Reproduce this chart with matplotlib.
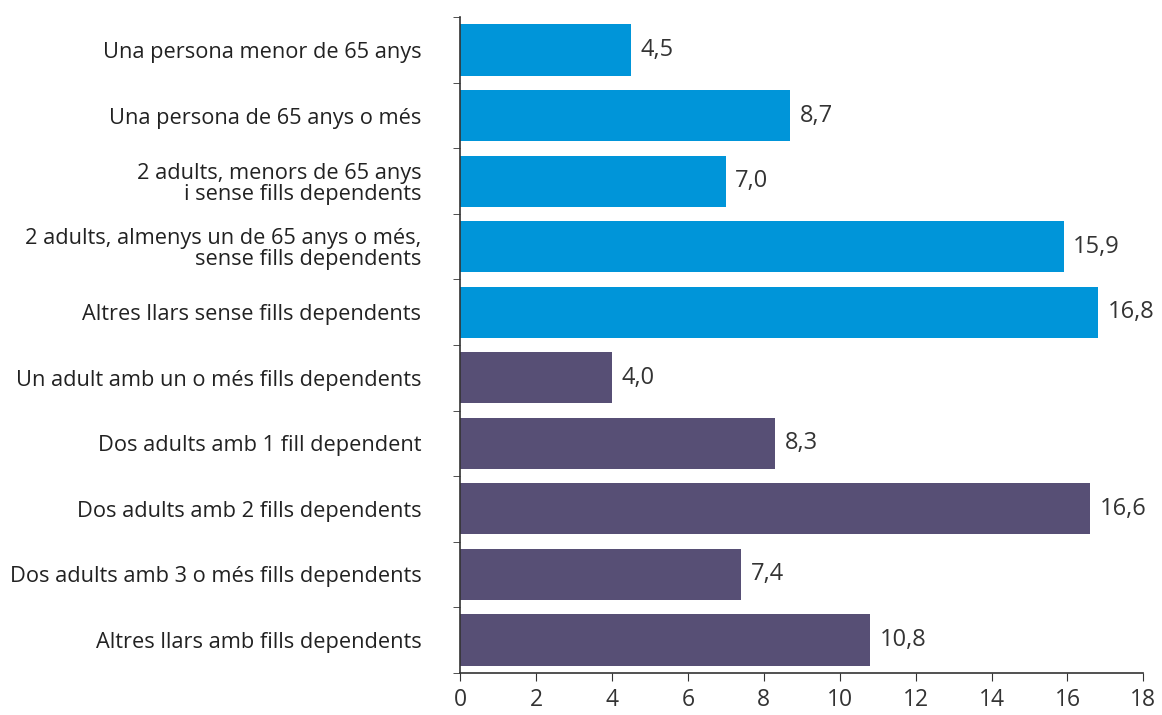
import matplotlib
matplotlib.use("Agg")
import matplotlib.pyplot as plt
from matplotlib.ticker import FixedLocator

categories = [
    "Una persona menor de 65 anys",
    "Una persona de 65 anys o més",
    "2 adults, menors de 65 anys\ni sense fills dependents",
    "2 adults, almenys un de 65 anys o més,\nsense fills dependents",
    "Altres llars sense fills dependents",
    "Un adult amb un o més fills dependents",
    "Dos adults amb 1 fill dependent",
    "Dos adults amb 2 fills dependents",
    "Dos adults amb 3 o més fills dependents",
    "Altres llars amb fills dependents",
]
values = [4.5, 8.7, 7.0, 15.9, 16.8, 4.0, 8.3, 16.6, 7.4, 10.8]
groups = ["sense", "sense", "sense", "sense", "sense", "amb", "amb", "amb", "amb", "amb"]
xticks = [0, 2, 4, 6, 8, 10, 12, 14, 16, 18]

group_colors = {"sense": "#0095D9", "amb": "#574F75"}

plt.rcParams["font.family"] = ["Open Sans", "DejaVu Sans"]

fig = plt.figure(figsize=(11.62, 7.15), dpi=100)
ax = fig.add_axes([0.396, 0.059, 0.588, 0.917])

ypos = list(range(len(categories)))
colors = [group_colors[g] for g in groups]
ax.barh(ypos, values, height=0.78, color=colors)

# value labels, with decimal comma
for y, v in zip(ypos, values):
    ax.text(v + 0.25, y, f"{v:.1f}".replace(".", ","), va="center", ha="left",
            fontsize=17, color="#333333")

ax.set_ylim(len(categories) - 0.5, -0.5)
ax.set_xlim(0, 18)
ax.set_xticks(xticks)
ax.set_xticklabels([str(t) for t in xticks], fontsize=16.5, color="#333333")

ax.set_yticks(ypos)
ax.set_yticklabels(categories, fontsize=15.7, color="#222222", linespacing=1.0)
ax.tick_params(axis="y", which="major", length=0, pad=28)
ax.yaxis.set_minor_locator(FixedLocator([i - 0.5 for i in range(len(categories) + 1)]))
ax.tick_params(axis="y", which="minor", length=5, direction="out", color="#333333")
ax.tick_params(axis="x", length=6, direction="out", color="#333333", pad=5)

for s in ["top", "right"]:
    ax.spines[s].set_visible(False)
for s in ["left", "bottom"]:
    ax.spines[s].set_color("#333333")
    ax.spines[s].set_linewidth(1.2)

fig.savefig("out.png", dpi=100)
